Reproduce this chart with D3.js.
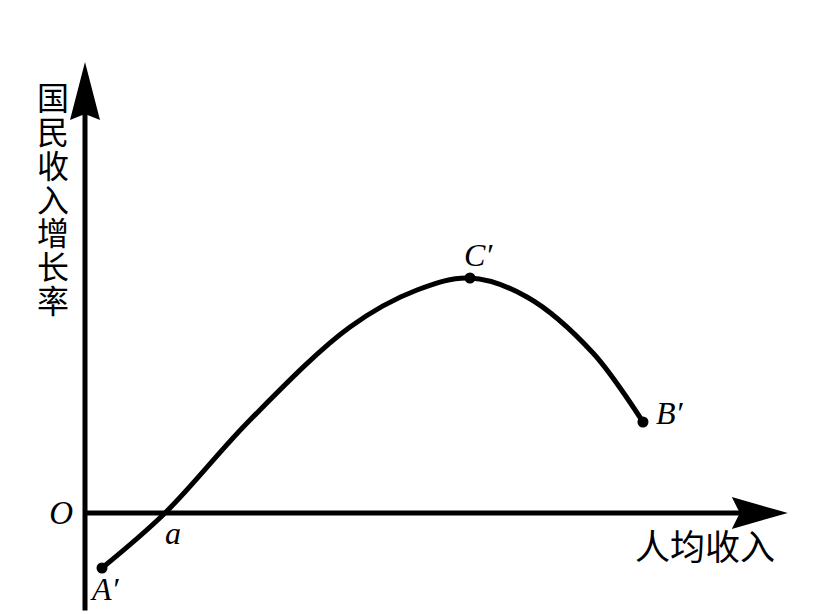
<!DOCTYPE html>
<html><head><meta charset="utf-8">
<script src="https://cdn.jsdelivr.net/npm/d3@7"></script>
<style>body{margin:0;background:#fff}svg{display:block}</style>
</head><body>
<svg id="c" width="822" height="614"></svg>
<script>
// Data (x: per-capita income units, y: growth rate units)
const incomeX = [2.43, 11.43, 23.57, 37.86, 47.43, 55, 63.14, 72.57, 79.71];
const growthY = [-11, 0, 18.6, 37.2, 44.6, 47, 43.2, 32, 18.2];
const pointNames = ["A′", "C′", "B′"];
const pointIdx = [0, 5, 8];
const xAxisTitle = "人均收入";
const yAxisTitle = "国民收入增长率";
const originLabel = "O";
const crossLabel = "a";

const svg = d3.select("#c");
const x = d3.scaleLinear().domain([0, 100]).range([85, 785]);
const y = d3.scaleLinear().domain([-20, 90]).range([613, 63]);

// axes
svg.append("line").attr("x1", x(0)).attr("x2", x(95)).attr("y1", y(0)).attr("y2", y(0))
  .attr("stroke", "#000").attr("stroke-width", 5);
svg.append("line").attr("x1", x(0)).attr("x2", x(0)).attr("y1", y(-19.5)).attr("y2", y(80))
  .attr("stroke", "#000").attr("stroke-width", 5);
// arrowheads
const tipY = y(90.2), ax = x(0);
svg.append("path").attr("d",
  `M${ax},${tipY} L${ax+15},${tipY+58} L${ax},${tipY+52} L${ax-15},${tipY+58} Z`).attr("fill", "#000");
const tipX = x(100.4), ay = y(0);
svg.append("path").attr("d",
  `M${tipX},${ay} L${tipX-56},${ay-16} L${tipX-48},${ay} L${tipX-56},${ay+16} Z`).attr("fill", "#000");

// curve
const pts = incomeX.map((v, i) => [v, growthY[i]]);
const line = d3.line().x(d => x(d[0])).y(d => y(d[1])).curve(d3.curveCatmullRom.alpha(0.5));
svg.append("path").attr("d", line(pts)).attr("fill", "none").attr("stroke", "#000")
  .attr("stroke-width", 5).attr("stroke-linecap", "round");

// points
svg.selectAll("circle.p").data(pointIdx).enter().append("circle")
  .attr("cx", i => x(incomeX[i])).attr("cy", i => y(growthY[i])).attr("r", 5.5).attr("fill", "#000");

const serif = "'Liberation Serif','DejaVu Serif',serif";
const lab = (t, px, py, anchor, size) => svg.append("text").attr("x", px).attr("y", py)
  .attr("text-anchor", anchor || "start").attr("font-family", serif).attr("font-style", "italic")
  .attr("font-size", size || 32).text(t);
lab(pointNames[0], x(incomeX[pointIdx[0]]) - 10, y(growthY[pointIdx[0]]) + 32);
lab(pointNames[1], x(incomeX[pointIdx[1]]) - 6, y(growthY[pointIdx[1]]) - 12);
lab(pointNames[2], x(incomeX[pointIdx[2]]) + 13, y(growthY[pointIdx[2]]) + 2);
lab(originLabel, x(0) - 12, y(0) + 11, "end", 33);
lab(crossLabel, x(incomeX[1]) + 8, y(0) + 31, "middle", 32);

// axis titles
const cjk = "'Noto Sans CJK SC','Noto Sans',sans-serif";
svg.append("text").attr("x", 775).attr("y", 560).attr("text-anchor", "end")
  .attr("font-family", cjk).attr("font-size", 35).attr("font-weight", 400).text(xAxisTitle);
svg.append("text").attr("x", 53).attr("y", 82)
  .attr("font-family", cjk).attr("font-size", 32).attr("font-weight", 400)
  .style("writing-mode", "vertical-rl").style("text-orientation", "upright")
  .attr("letter-spacing", 1.8).text(yAxisTitle);
</script>
</body></html>
